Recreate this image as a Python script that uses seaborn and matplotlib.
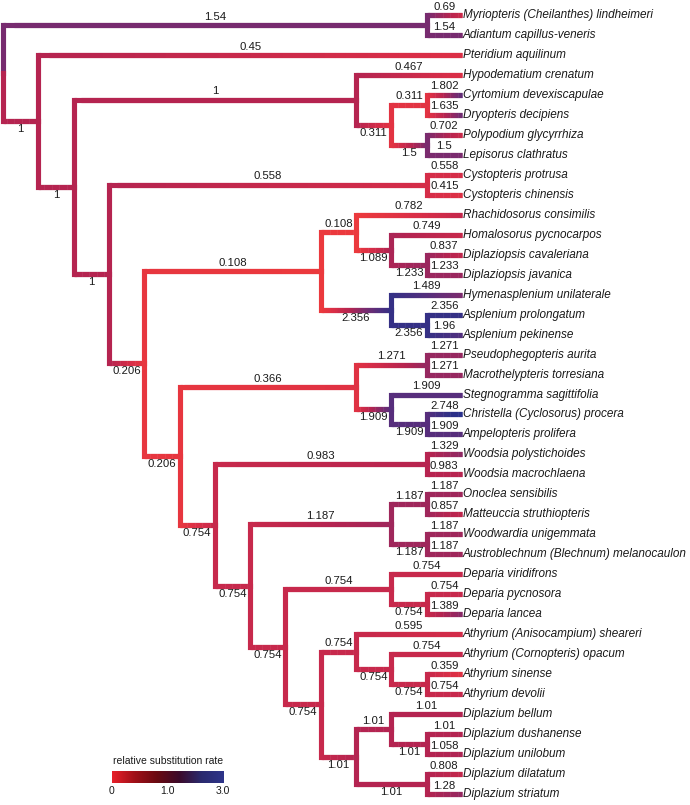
import numpy as np
import matplotlib
matplotlib.use("Agg")
import matplotlib.pyplot as plt
import seaborn as sns
from matplotlib.collections import LineCollection

sns.set_theme(style="white")
plt.rcParams["font.family"] = ["Liberation Sans", "DejaVu Sans"]

# tip names, top to bottom
tips = [
    "Myriopteris (Cheilanthes) lindheimeri", "Adiantum capillus-veneris",
    "Pteridium aquilinum", "Hypodematium crenatum", "Cyrtomium devexiscapulae",
    "Dryopteris decipiens", "Polypodium glycyrrhiza", "Lepisorus clathratus",
    "Cystopteris protrusa", "Cystopteris chinensis", "Rhachidosorus consimilis",
    "Homalosorus pycnocarpos", "Diplaziopsis cavaleriana", "Diplaziopsis javanica",
    "Hymenasplenium unilaterale", "Asplenium prolongatum", "Asplenium pekinense",
    "Pseudophegopteris aurita", "Macrothelypteris torresiana",
    "Stegnogramma sagittifolia", "Christella (Cyclosorus) procera",
    "Ampelopteris prolifera", "Woodsia polystichoides", "Woodsia macrochlaena",
    "Onoclea sensibilis", "Matteuccia struthiopteris", "Woodwardia unigemmata",
    "Austroblechnum (Blechnum) melanocaulon", "Deparia viridifrons",
    "Deparia pycnosora", "Deparia lancea", "Athyrium (Anisocampium) sheareri",
    "Athyrium (Cornopteris) opacum", "Athyrium sinense", "Athyrium devolii",
    "Diplazium bellum", "Diplazium dushanense", "Diplazium unilobum",
    "Diplazium dilatatum", "Diplazium striatum",
]
tip_rate = [0.69, 1.54, 0.45, 0.467, 1.802, 1.635, 0.702, 1.5, 0.558, 0.415,
            0.782, 0.749, 0.837, 1.233, 1.489, 2.356, 1.96, 1.271, 1.271, 1.909,
            2.748, 1.909, 1.329, 0.983, 1.187, 0.857, 1.187, 1.187, 0.754, 0.754,
            1.389, 0.595, 0.754, 0.359, 0.754, 1.01, 1.01, 1.058, 0.808, 1.28]
tip_parent = [1, 1, 2, 4, 6, 6, 7, 7, 9, 9, 12, 13, 14, 14, 15, 16, 16, 19, 19, 20,
              21, 21, 23, 23, 26, 26, 27, 27, 29, 30, 30, 32, 33, 34, 34, 36, 37, 37,
              38, 38]

# internal nodes (0 = root)
node_parent = [-1, 0, 0, 2, 3, 4, 5, 5, 3, 8, 8, 10, 11, 12, 13, 11, 15, 10, 17, 18,
               18, 20, 17, 22, 22, 24, 25, 25, 24, 28, 29, 28, 31, 32, 33, 31, 35,
               36, 35]
node_rate = [0, 1.54, 1, 1, 1, 0.311, 0.311, 1.5, 1, 0.558, 0.206, 0.108, 0.108,
             1.089, 1.233, 2.356, 2.356, 0.206, 0.366, 1.271, 1.909, 1.909, 0.754,
             0.983, 0.754, 1.187, 1.187, 1.187, 0.754, 0.754, 0.754, 0.754, 0.754,
             0.754, 0.754, 1.01, 1.01, 1.01, 1.01]

legend_ticks = ["0", "1.0", "3.0"]

# colour scale for branches
cmap = sns.blend_palette(["#f03c3a", "#d92e47", "#b52450", "#7b2b6e",
                          "#4f2f7f", "#2c3087", "#283292"], as_cmap=True)
norm = plt.Normalize(0, 3)
legend_cmap = sns.blend_palette(["#e8202a", "#a01018", "#6a0a12", "#3c0a2a",
                                 "#2a2a6e", "#2e358a"], as_cmap=True)

n_nodes = len(node_parent)
n_tips = len(tips)
parent = node_parent + tip_parent
rate = node_rate + tip_rate
total = n_nodes + n_tips

children = [[] for _ in range(total)]
for i, p in enumerate(parent):
    if p >= 0:
        children[p].append(i)

y = np.zeros(total)
h = np.zeros(total)
for i in range(n_tips):
    y[n_nodes + i] = i
for i in range(n_nodes - 1, -1, -1):
    y[i] = np.mean([y[c] for c in children[i]])
    h[i] = 1 + max(h[c] for c in children[i])
    children[i].sort(key=lambda c: y[c])
x = h[0] - h

fig = plt.figure(figsize=(6.9, 8.05), dpi=100)
ax = fig.add_axes([0, 0, 1, 1])
ax.set_xlim(-0.085, 19.46)
ax.set_ylim(39.55, -0.75)
ax.axis("off")

lw = 3.7
for i in range(1, total):
    p = parent[i]
    r1 = rate[p] if p != 0 else rate[i]
    r2 = rate[i]
    # vertical part in parent's colour
    ax.plot([x[p], x[p]], [y[p], y[i]], color=cmap(norm(r1)), lw=lw,
            solid_capstyle="projecting")
    # horizontal part blends parent -> child
    n = 40
    xs = np.linspace(x[p], x[i], n + 1)
    segs = [[(xs[k], y[i]), (xs[min(k + 2, n)], y[i])] for k in range(n)]
    cols = cmap(norm(np.linspace(r1, r2, n)))
    ax.add_collection(LineCollection(segs, colors=cols, linewidths=lw,
                                     capstyle="butt"))
    # rate label: tips and upper branches above, lower inner branches below
    cx = (x[p] + x[i]) / 2
    lab = f"{rate[i]:g}"
    if children[p][0] == i or i >= n_nodes:
        ax.text(cx, y[i] - 0.17, lab, ha="center", va="bottom", fontsize=8.2,
                color="#1a1a1a")
    else:
        ax.text(cx, y[i] + 0.15, lab, ha="center", va="top", fontsize=8.2,
                color="#1a1a1a")

for i, name in enumerate(tips):
    ax.text(x[n_nodes + i] + 0.02, i, name, style="italic", fontsize=8.5,
            va="center", color="#1a1a1a")

# colour legend
cax = fig.add_axes([0.162, 0.0273, 0.161, 0.0149])
cax.imshow(np.linspace(0, 1, 256)[None, :], aspect="auto", cmap=legend_cmap,
           extent=[0, 1, 0, 1])
cax.axis("off")
fig.text(0.2435, 0.0547, "relative substitution rate", ha="center",
         va="center", fontsize=7.5, color="#1a1a1a")
for fx, t in zip([0.1623, 0.242, 0.323], legend_ticks):
    fig.text(fx, 0.0174, t, ha="center", va="center", fontsize=7.5,
             color="#1a1a1a")

fig.savefig("out.png", dpi=100)
